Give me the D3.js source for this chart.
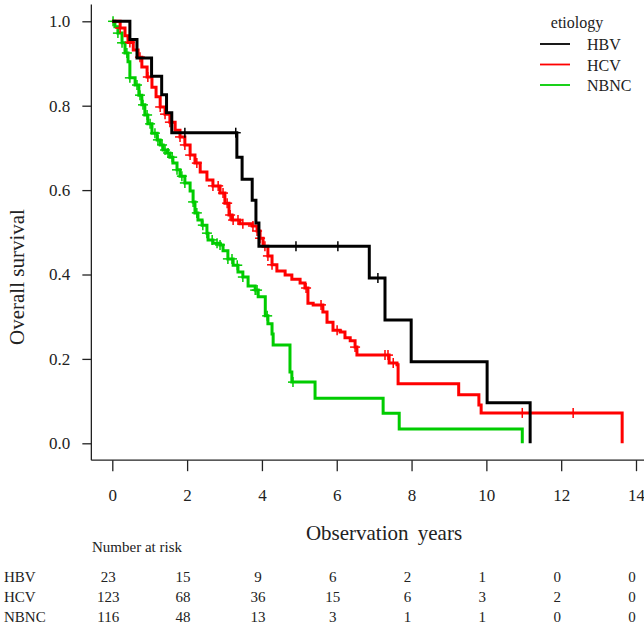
<!DOCTYPE html>
<html>
<head>
<meta charset="utf-8">
<script src="https://cdn.jsdelivr.net/npm/d3@7"></script>
<style>
  html, body { margin: 0; padding: 0; background: #fff; }
  svg { display: block; font-family: "Liberation Serif", "Times New Roman", serif; }
</style>
</head>
<body>
<svg id="chart" width="644" height="625"></svg>
<script>
// ---------- DATA ----------
const groups = ["HBV", "HCV", "NBNC"];
const colors = ["#000000", "#ff0000", "#00cc00"];

// Kaplan-Meier step points: at time t (years) the survival becomes s
const hbvTime = [0, 0.47, 0.66, 1.05, 1.32, 1.45, 1.59, 3.33, 3.47, 3.74, 3.84, 3.92, 6.87, 7.29, 7.99, 10.02, 11.17];
const hbvSurv = [1, 0.957, 0.913, 0.870, 0.826, 0.783, 0.736, 0.678, 0.626, 0.576, 0.522, 0.467, 0.392, 0.292, 0.193, 0.096, 0];
const hbvCens = [1.94, 3.30, 4.91, 6.03, 7.10];

const hcvTime = [0, 0.21, 0.34, 0.42, 0.56, 0.69, 0.79, 0.93, 1.06, 1.17, 1.28, 1.41, 1.54, 1.68, 1.81, 1.94, 2.08, 2.21, 2.35, 2.53, 2.69, 2.88, 3.01, 3.12, 3.20, 3.41, 3.74, 3.87, 3.95, 4.03, 4.16, 4.27, 4.40, 4.62, 4.80, 5.02, 5.15, 5.23, 5.37, 5.63, 5.74, 5.90, 6.09, 6.22, 6.36, 6.49, 6.54, 7.40, 7.61, 7.64, 9.26, 9.80, 9.86, 13.63];
const hcvSurv = [1, 0.984, 0.966, 0.950, 0.932, 0.915, 0.892, 0.868, 0.844, 0.821, 0.797, 0.780, 0.761, 0.742, 0.726, 0.707, 0.683, 0.664, 0.643, 0.624, 0.610, 0.593, 0.569, 0.541, 0.529, 0.520, 0.515, 0.503, 0.486, 0.467, 0.444, 0.423, 0.408, 0.399, 0.389, 0.380, 0.368, 0.332, 0.328, 0.311, 0.287, 0.268, 0.264, 0.250, 0.243, 0.228, 0.209, 0.190, 0.186, 0.141, 0.115, 0.091, 0.072, 0];
const hcvCens = [0.21, 0.47, 0.74, 0.95, 1.28, 1.41, 1.54, 1.81, 1.94, 2.08, 2.26, 2.69, 2.83, 2.96, 3.07, 3.15, 3.23, 3.36, 3.49, 3.76, 3.87, 3.95, 4.08, 4.16, 4.27, 5.18, 5.58, 6.01, 6.49, 7.29, 7.37, 7.51, 10.96, 12.32];

const nbncTime = [0, 0.07, 0.15, 0.26, 0.34, 0.42, 0.47, 0.61, 0.71, 0.79, 0.87, 0.95, 1.06, 1.20, 1.28, 1.36, 1.47, 1.54, 1.62, 1.73, 1.81, 1.94, 2.08, 2.16, 2.21, 2.29, 2.40, 2.53, 2.56, 2.69, 2.88, 2.96, 3.09, 3.23, 3.36, 3.49, 3.63, 3.82, 3.90, 4.09, 4.16, 4.27, 4.30, 4.75, 4.80, 5.42, 7.24, 7.67, 10.96];
const nbncSurv = [1, 0.987, 0.972, 0.949, 0.925, 0.904, 0.866, 0.849, 0.825, 0.802, 0.778, 0.757, 0.735, 0.719, 0.707, 0.695, 0.688, 0.678, 0.664, 0.648, 0.633, 0.617, 0.598, 0.572, 0.546, 0.529, 0.517, 0.498, 0.482, 0.474, 0.470, 0.456, 0.437, 0.422, 0.406, 0.394, 0.373, 0.363, 0.347, 0.302, 0.283, 0.259, 0.233, 0.169, 0.145, 0.107, 0.071, 0.034, 0];
const nbncCens = [0.02, 0.15, 0.26, 0.39, 0.47, 0.66, 0.74, 0.82, 0.93, 1.01, 1.14, 1.22, 1.33, 1.41, 1.49, 1.60, 1.73, 1.86, 1.94, 2.16, 2.26, 2.42, 2.53, 2.67, 2.80, 2.88, 3.09, 3.20, 3.34, 3.49, 3.82, 3.87, 4.14, 4.83];

const riskTimes = [0, 2, 4, 6, 8, 10, 12, 14];
const riskHBV = [23, 15, 9, 6, 2, 1, 0, 0];
const riskHCV = [123, 68, 36, 15, 6, 3, 2, 0];
const riskNBNC = [116, 48, 13, 3, 1, 1, 0, 0];

const xTicks = [0, 2, 4, 6, 8, 10, 12, 14];
const yTicks = [0, 0.2, 0.4, 0.6, 0.8, 1.0];

// ---------- CHART ----------
const svg = d3.select("#chart");
svg.append("rect").attr("width", 644).attr("height", 625).attr("fill", "#fff");

const x = d3.scaleLinear().domain([0, 14]).range([112.3, 636]);
const y = d3.scaleLinear().domain([0, 1]).range([443.3, 21.3]);
const xLeft = x(-0.56), yBottom = y(-0.04), yTop = y(1.04);

// L-shaped box
svg.append("line").attr("x1", xLeft).attr("x2", xLeft).attr("y1", yTop).attr("y2", yBottom)
  .attr("stroke", "#222").attr("stroke-width", 1.3);
svg.append("line").attr("x1", xLeft).attr("x2", 650).attr("y1", yBottom).attr("y2", yBottom)
  .attr("stroke", "#222").attr("stroke-width", 1.3);

const yAxis = svg.append("g").attr("transform", `translate(${xLeft},0)`)
  .call(d3.axisLeft(y).tickValues(yTicks).tickFormat(d3.format(".1f")).tickSize(9).tickPadding(12));
yAxis.select(".domain").remove();
yAxis.selectAll("line").attr("stroke", "#222").attr("stroke-width", 1.3);
yAxis.selectAll("text").attr("font-size", 17).attr("font-family", "Liberation Serif").attr("fill", "#222");

const xAxis = svg.append("g").attr("transform", `translate(0,${yBottom})`)
  .call(d3.axisBottom(x).tickValues(xTicks).tickFormat(d3.format("d")).tickSize(11).tickPadding(18));
xAxis.select(".domain").remove();
xAxis.selectAll("line").attr("stroke", "#222").attr("stroke-width", 1.3);
xAxis.selectAll("text").attr("font-size", 17).attr("font-family", "Liberation Serif").attr("fill", "#222");

// axis titles
svg.append("text").attr("transform", "translate(17,277) rotate(-90)")
  .attr("text-anchor", "middle").attr("dominant-baseline", "central")
  .attr("font-size", 21).attr("fill", "#222").text("Overall survival");
svg.append("text").attr("x", 384).attr("y", 540).attr("text-anchor", "middle")
  .attr("font-size", 21).attr("word-spacing", 4).attr("fill", "#222").text("Observation years");

// curves
const series = [
  { t: hbvTime, s: hbvSurv, c: hbvCens },
  { t: hcvTime, s: hcvSurv, c: hcvCens },
  { t: nbncTime, s: nbncSurv, c: nbncCens }
];
const line = d3.line().x(d => x(d[0])).y(d => y(d[1])).curve(d3.curveStepAfter);
function survAt(ser, t) {
  let v = 1;
  for (let i = 0; i < ser.t.length; i++) if (ser.t[i] <= t) v = ser.s[i];
  return v;
}
// draw order: green, red, black (black on top)
[2, 1, 0].forEach(i => {
  const ser = series[i];
  const pts = ser.t.map((t, k) => [t, ser.s[k]]);
  svg.append("path").datum(pts).attr("d", line).attr("fill", "none")
    .attr("stroke", colors[i]).attr("stroke-width", 3).attr("stroke-linejoin", "miter");
  const g = svg.append("g");
  ser.c.forEach(ct => {
    const cx = x(ct), cy = y(survAt(ser, ct));
    g.append("line").attr("x1", cx).attr("x2", cx).attr("y1", cy - 5).attr("y2", cy + 5)
      .attr("stroke", colors[i]).attr("stroke-width", 1.5);
    g.append("line").attr("x1", cx - 5).attr("x2", cx + 5).attr("y1", cy).attr("y2", cy)
      .attr("stroke", colors[i]).attr("stroke-width", 1.5);
  });
});

// legend
svg.append("text").attr("x", 577).attr("y", 28).attr("text-anchor", "middle")
  .attr("font-size", 16).attr("fill", "#222").text("etiology");
groups.forEach((gname, i) => {
  const ly = 44 + i * 20.5;
  svg.append("line").attr("x1", 540).attr("x2", 570).attr("y1", ly).attr("y2", ly)
    .attr("stroke", colors[i]).attr("stroke-width", 1.8);
  svg.append("text").attr("x", 587).attr("y", ly + 6).attr("font-size", 16)
    .attr("fill", "#222").text(gname);
});

// number at risk table
svg.append("text").attr("x", 92).attr("y", 552).attr("font-size", 15)
  .attr("fill", "#222").text("Number at risk");
const riskRows = [riskHBV, riskHCV, riskNBNC];
riskRows.forEach((row, r) => {
  const ry = 582 + r * 20;
  svg.append("text").attr("x", 4).attr("y", ry).attr("font-size", 15)
    .attr("fill", "#222").text(groups[r]);
  row.forEach((v, k) => {
    svg.append("text").attr("x", x(riskTimes[k]) - 4).attr("y", ry)
      .attr("text-anchor", "middle").attr("font-size", 15).attr("fill", "#222").text(v);
  });
});
</script>
</body>
</html>
